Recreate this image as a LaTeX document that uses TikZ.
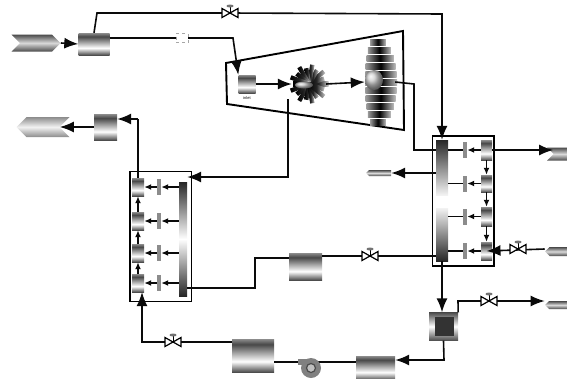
\documentclass[tikz,border=0pt]{standalone}
\usepackage{fontspec}
\setmainfont{Liberation Sans}
\usetikzlibrary{arrows.meta,shapes.symbols}
\definecolor{pipeblack}{HTML}{0A0A0A}
\definecolor{steel}{HTML}{4A4A4A}
\pgfdeclareverticalshading{steelbar}{100bp}{color(0bp)=(black!70); color(25bp)=(black!70); color(41bp)=(white); color(52bp)=(black!30); color(67bp)=(black!72); color(75bp)=(black!45); color(100bp)=(black!45)}
\tikzset{
  metal/.style={rectangle,inner sep=0pt,shade,shading=steelbar},
  plate/.style={rectangle,inner sep=0pt,fill=black!45,minimum width=4pt,minimum height=16pt},
  stream/.style={signal,inner sep=0pt,top color=steel,bottom color=steel,middle color=black!15},
  pipe/.style={draw=pipeblack,line width=1.6pt},
  bigflow/.style={pipe,-{Latex[length=14pt,width=11pt]}},
  smallflow/.style={pipe,-{Latex[length=7pt,width=6pt]}},
  frameline/.style={draw=black,line width=1.9pt},
  valve/.pic={
    \draw[line width=1.2pt,fill=white] (-8,-4.5) -- (8,4.5) -- (8,-4.5) -- (-8,4.5) -- cycle;
    \draw[line width=.8pt] (0,0) -- (0,-6);
    \fill[black!55] (0,-7) ellipse (3.5pt and 1.5pt);
  }
}
\begin{document}
\begin{tikzpicture}[x=1pt,y=-1pt]
    \useasboundingbox (0,0) rectangle (567,378);
    % casing and the two wheels
    \draw[frameline] (226,63) -- (403,31) -- (404,130) -- (227,104) -- cycle;
    \node[inner sep=0pt,minimum width=34pt,minimum height=38pt] (wheela) at (309,84) {};
    \node[inner sep=0pt,minimum width=30pt,minimum height=84pt] (wheelb) at (380,82) {};
    \foreach \a in {0,20,...,359}
      { \pgfmathsetmacro{\len}{mod(\a,40)==0 ? 19.5 : 16}
        \begin{scope}[shift={(309,84)},rotate=\a]
          \shade[left color=black,right color=black!20,middle color=black!85] (0,-2.2) rectangle (\len,2.2);
        \end{scope} }
    \foreach \yy in {-40,-32,...,40}
      { \pgfmathsetmacro{\len}{22*sqrt(1-(\yy/46)^2)}
        \shade[left color=black!40,right color=black!25,middle color=black] (375-.45*\len,82+\yy-3) rectangle (375+\len,82+\yy+3); }
    \shade[ball color=black!25] (304,85) ellipse (9pt and 3.5pt);
    \shade[ball color=black!20] (374,80) ellipse (9pt and 10pt);
    % streams and vessels
    \node[stream,signal to=east,signal from=west,minimum width=49pt,minimum height=17pt] (feed) at (36,43) {};
    \node[metal,minimum width=31pt,minimum height=22pt] (mixer) at (94,44) {};
    \node[metal,minimum width=17pt,minimum height=18pt] (inlet) at (247,84) {};
    \node[font=\fontsize{4}{4}\selectfont,inner sep=0pt] (inletlabel) at (247,98) {inlet};
    \node[rectangle,draw=black!35,dashed,fill=white,minimum width=12pt,minimum height=9pt,inner sep=0pt] (flange) at (182,38) {};
    \node[metal,minimum width=23pt,minimum height=26pt] (topbox) at (105.5,127) {};
    \node[stream,signal to=west,signal from=east,top color=black!45,bottom color=black!45,middle color=black!5,minimum width=53pt,minimum height=20pt] (product) at (43,127) {};
    \node[metal,minimum width=33pt,minimum height=27pt] (midtank) at (305.5,266.5) {};
    \node[metal,minimum width=42pt,minimum height=33pt] (lowtank) at (253,355.5) {};
    \node[metal,minimum width=39pt,minimum height=24pt] (lowbox) at (375.5,368) {};
    \node[rectangle,inner sep=0pt,top color=black!70,bottom color=black!70,middle color=white,minimum width=29pt,minimum height=28pt] (reboil) at (443.5,326.5) {};
    \node[rectangle,inner sep=0pt,fill=black!80,minimum width=19pt,minimum height=19pt] (reboilcore) at (444,326.5) {};
    \node[stream,signal to=west,signal from=nowhere,minimum width=25pt,minimum height=6pt] (ventout) at (380,173) {};
    \node[stream,signal to=east,signal from=west,minimum width=30pt,minimum height=13pt] (topout) at (562,154) {};
    \node[stream,signal to=west,signal from=east,minimum width=30pt,minimum height=9pt] (sideout) at (560,251.5) {};
    \node[stream,signal to=west,signal from=east,minimum width=30pt,minimum height=8pt] (bottomout) at (560,305) {};
    % left unit
    \draw[frameline] (130,171.5) rectangle (191.5,301.5);
    \node[rectangle,inner sep=0pt,top color=black!85,bottom color=black!85,middle color=white,minimum width=8pt,minimum height=114pt] (lcol) at (183,239) {};
    \foreach \i/\y in {1/187,2/221,3/253,4/283}
      { \node[metal,minimum width=12pt,minimum height=18pt] (lbox\i) at (138,\y) {};
        \node[plate] (lplate\i) at (159,\y) {};
        \draw[smallflow] (lcol.west |- lplate\i) -- (lplate\i.east);
        \draw[smallflow] (lplate\i.west) -- (lbox\i.east); }
    \foreach \a/\b in {1/2,2/3,3/4}
      { \draw[smallflow] (lbox\b.north) -- (lbox\a.south); }
    % right unit
    \draw[frameline] (432.5,136) rectangle (494,266);
    \node[rectangle,inner sep=0pt,top color=black!85,bottom color=black!5,minimum width=12pt,minimum height=55pt] (rcolup) at (442,167.5) {};
    \node[rectangle,inner sep=0pt,top color=black!5,bottom color=black!85,minimum width=12pt,minimum height=53pt] (rcoldown) at (442,234.5) {};
    \foreach \i/\y/\h/\c in {1/150/20/rcolup,2/183.5/17/rcolup,3/216.5/19/rcoldown,4/251/18/rcoldown}
      { \node[metal,minimum width=11pt,minimum height=\h pt] (rbox\i) at (486.5,\y) {};
        \node[plate] (rplate\i) at (465,\y) {};
        \draw[pipe] (\c.east |- rplate\i) -- (rplate\i.west);
        \draw[smallflow] (rbox\i.west) -- (rplate\i.east); }
    \foreach \a/\b in {1/2,2/3,3/4}
      { \draw[smallflow] (rbox\a.south) -- (rbox\b.north); }
    % junction points and valves
    \coordinate (vtop) at (230,13);
    \coordinate (vmid) at (370,256);
    \coordinate (vside) at (518,249);
    \coordinate (vbot) at (489,301);
    \coordinate (vlow) at (173,342);
    % pipes
    \draw[bigflow] (feed.east) -- (mixer.west);
    \draw[pipe] (mixer.north) -- (97,13) -- (vtop);
    \draw[bigflow] (vtop) -- (442,14) -- (rcolup.north);
    \draw[pipe] (mixer.east |- flange) -- (flange.west);
    \draw[bigflow] (flange.east) -- (233,38) -- (inlet.north west);
    \draw[bigflow] (inlet.east) -- (wheela.west);
    \draw[bigflow] (wheela.east) -- (wheelb.west);
    \draw[pipe] (wheelb.east) -- (414,84) -- (414,150) -- (rcolup.west |- rplate1);
    \draw[bigflow] (288,99) -- (288,177) -- (lcol.north east |- 0,177);
    \draw[pipe] (lbox1.north) -- (138,119) coordinate (topbend);
    \draw[bigflow] (topbend) -- (topbox.east |- topbend);
    \draw[bigflow] (topbox.west) -- (product.east);
    \draw[bigflow] (rbox1.east) -- (topout.west |- rbox1);
    \draw[bigflow] (rcolup.west |- ventout) -- (ventout.east);
    \draw[bigflow] (sideout.west |- vside) -- (rbox4.center);
    \draw[pipe] (rcoldown.west |- vmid) -- (vmid) -- (midtank.east |- vmid);
    \draw[pipe] (midtank.west |- 0,258) -- (255,258) -- (255,288) -- (lcol.east |- 0,288);
    \draw[bigflow] (rcoldown.south) -- (reboil.north -| rcoldown.south);
    \draw[pipe] (reboil.north east) -- (458,301) -- (vbot);
    \draw[bigflow] (vbot) -- (bottomout.west |- vbot);
    \draw[pipe] (reboil.south) -- (444,360) -- (412,360);
    \draw[bigflow] (412,360) -- (lowbox.east |- 0,360);
    \draw[pipe] (lowbox.west |- 0,362) -- (lowtank.east |- 0,362);
    \draw[pipe] (lowtank.west |- vlow) -- (vlow);
    \draw[bigflow] (vlow) -- (142,342) -- (142,292);
    % pump
    \node[rectangle,inner sep=0pt,fill=black!50,minimum width=13pt,minimum height=6pt] (pumpneck) at (304.5,362) {};
    \node[circle,inner sep=0pt,fill=black!50,minimum size=20pt] (pump) at (311,368) {};
    \node[circle,inner sep=0pt,draw=black!70,line width=1.2pt,fill=black!25,minimum size=9pt] (pumpeye) at (311,368) {};
    \foreach \v in {vtop,vmid,vside,vbot,vlow}
      { \pic at (\v) {valve}; }
\end{tikzpicture}
\end{document}
